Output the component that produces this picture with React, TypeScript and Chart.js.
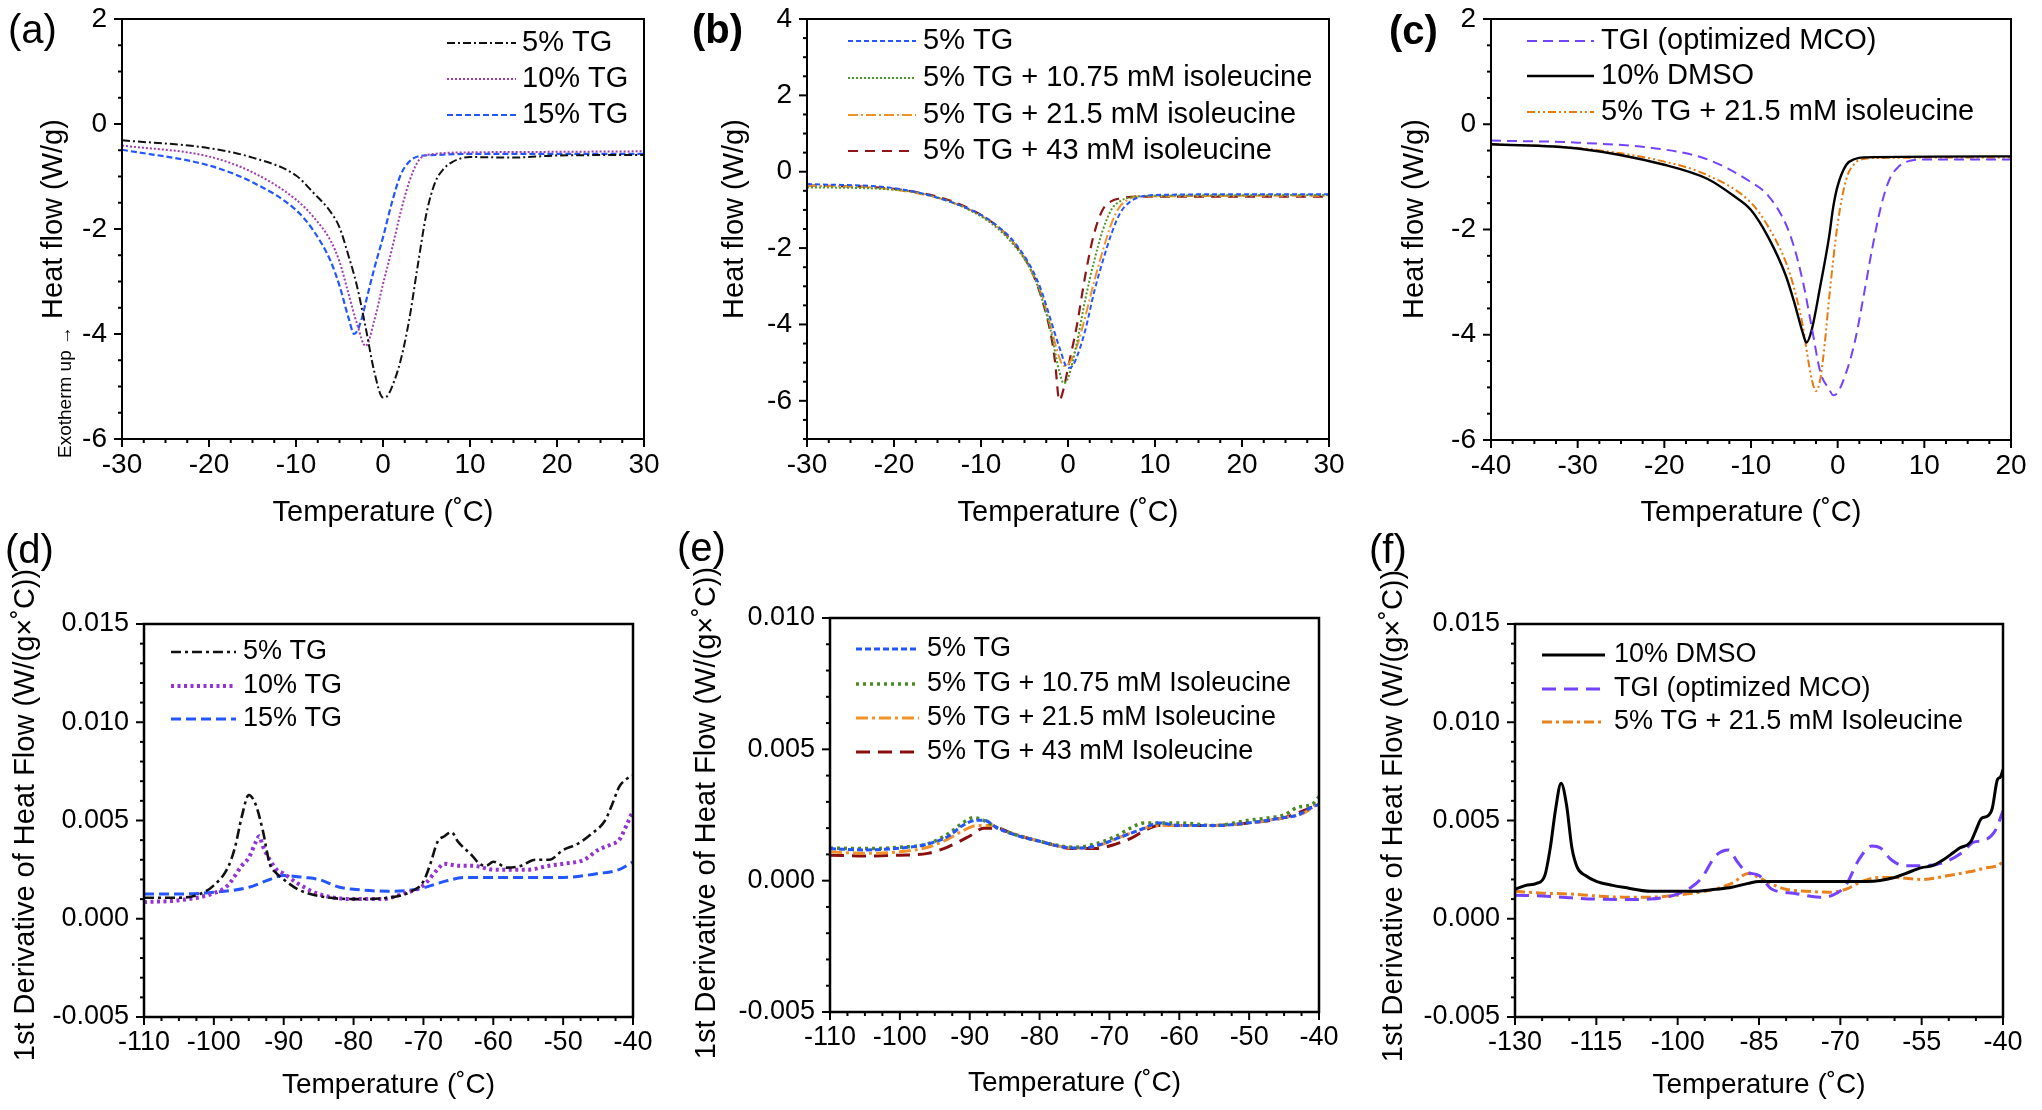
import React, { useEffect, useRef } from "react";
import { Chart, registerables } from "chart.js";
Chart.register(...registerables);

// ---------------- DATA ----------------
// Panel (a): heat flow (W/g) vs temperature (°C)
const a5TG_T = [-30, -20, -15, -10, -8, -6, -5, -4, -3, -2, -1, 0, 0.5, 1, 2, 3, 4, 5, 6, 7, 8, 10, 15, 20, 30];
const a5TG_V = [-0.31, -0.46, -0.64, -0.98, -1.31, -1.68, -1.97, -2.49, -3.08, -3.87, -4.72, -5.21, -5.18, -5.02, -4.52, -3.74, -2.69, -1.7, -1.11, -0.85, -0.72, -0.63, -0.64, -0.6, -0.59];
const a10TG_T = [-30, -20, -15, -10, -8, -6, -5, -4, -3, -2, -1, 0, 1, 2, 3, 4, 5, 10, 20, 30];
const a10TG_V = [-0.41, -0.62, -0.92, -1.44, -1.77, -2.23, -2.62, -3.21, -3.8, -4.23, -3.74, -3.05, -2.4, -1.7, -1.11, -0.72, -0.59, -0.54, -0.53, -0.52];
const a15TG_T = [-30, -20, -15, -10, -8, -6, -5, -4, -3.3, -2.5, -2, -1, 0, 1, 2, 3, 4, 6, 10, 30];
const a15TG_V = [-0.49, -0.79, -1.11, -1.64, -2.03, -2.62, -3.08, -3.67, -4.0, -3.74, -3.41, -2.75, -2.16, -1.51, -0.98, -0.72, -0.62, -0.59, -0.57, -0.57];

// Panel (b)
const b5TG_T = [-30, -20, -15, -10, -8, -6, -4, -3, -2, -1, 0, 0.5, 1, 2, 3, 4, 5, 6, 7, 8, 10, 20, 30];
const b5TG_V = [-0.32, -0.43, -0.68, -1.13, -1.44, -1.89, -2.61, -3.15, -3.87, -4.59, -5.14, -5.09, -4.86, -4.14, -3.15, -2.34, -1.62, -1.08, -0.81, -0.68, -0.61, -0.59, -0.59];
const bIle1075_T = [-30, -20, -10, -6, -4, -3, -2, -1, -0.5, 0, 1, 2, 3, 4, 5, 6, 7, 10, 30];
const bIle1075_V = [-0.41, -0.47, -1.17, -1.98, -2.7, -3.33, -4.14, -5.23, -5.54, -5.41, -4.5, -3.33, -2.34, -1.53, -0.99, -0.77, -0.68, -0.63, -0.61];
const bIle215_T = [-30, -20, -10, -6, -4, -3, -2, -1, -0.5, 0, 1, 2, 3, 4, 5, 6, 7, 8, 30];
const bIle215_V = [-0.36, -0.47, -1.15, -1.94, -2.7, -3.24, -4.05, -4.86, -5.09, -5.05, -4.59, -3.78, -2.88, -2.07, -1.35, -0.9, -0.72, -0.65, -0.63];
const bIle43_T = [-30, -20, -10, -6, -4, -3, -2, -1.5, -1, -0.5, 0, 1, 2, 3, 4, 5, 6, 8, 30];
const bIle43_V = [-0.36, -0.45, -1.13, -1.94, -2.7, -3.33, -4.23, -4.95, -5.99, -5.68, -5.14, -4.05, -2.7, -1.62, -0.99, -0.77, -0.7, -0.65, -0.65];

// Panel (c)
const cTGI_T = [-40, -30, -20, -15, -10, -8, -6, -5, -4, -3, -2, -1, -0.5, 0, 1, 2, 3, 4, 5, 6, 7, 8, 10, 20];
const cTGI_V = [-0.31, -0.35, -0.48, -0.67, -1.1, -1.36, -1.89, -2.35, -3.0, -3.85, -4.71, -5.03, -5.15, -5.1, -4.71, -4.12, -3.26, -2.35, -1.56, -1.04, -0.81, -0.71, -0.67, -0.67];
const cDMSO_T = [-40, -30, -20, -15, -12, -10, -8, -6, -5, -4, -3.6, -3, -2, -1, -0.5, 0, 1, 2, 3, 20];
const cDMSO_V = [-0.38, -0.46, -0.77, -1.04, -1.36, -1.63, -2.15, -2.87, -3.39, -3.98, -4.15, -3.91, -3.07, -2.15, -1.56, -1.17, -0.77, -0.66, -0.63, -0.61];
const cIle215_T = [-40, -30, -20, -15, -10, -8, -6, -5, -4, -3.5, -3, -2.5, -2, -1.5, -1, 0, 1, 2, 3, 5, 20];
const cIle215_V = [-0.38, -0.45, -0.71, -0.97, -1.49, -1.95, -2.61, -3.13, -3.85, -4.38, -4.84, -5.07, -4.84, -4.18, -3.33, -1.89, -1.04, -0.74, -0.66, -0.64, -0.63];

// Panel (d): 1st derivative of heat flow
const d5TG_T = [-110, -105, -102, -100, -98, -97, -96, -95, -94, -93, -92, -91, -90, -88, -85, -80, -75, -72, -70, -69, -68, -67, -66, -65, -63, -62, -61, -60, -58, -56, -54, -52, -50, -48, -46, -44, -43, -42, -41, -40];
const d5TG_V = [0.00107, 0.00107, 0.00126, 0.0017, 0.0026, 0.0036, 0.0052, 0.0063, 0.0058, 0.0045, 0.0028, 0.0023, 0.002, 0.0015, 0.00116, 0.001, 0.00107, 0.00135, 0.0019, 0.0028, 0.0039, 0.0042, 0.0044, 0.0039, 0.0032, 0.0028, 0.0027, 0.0029, 0.0026, 0.0027, 0.003, 0.003, 0.0035, 0.0038, 0.0043, 0.005, 0.0058, 0.0067, 0.0071, 0.0073];
const d10TG_T = [-110, -105, -100, -98, -96, -95, -94, -93.5, -93, -92, -91, -90, -88, -85, -80, -76, -73, -70, -68, -67, -65, -63, -60, -57, -55, -52, -50, -47, -45, -43, -42, -41, -40];
const d10TG_V = [0.00085, 0.00094, 0.0013, 0.0017, 0.0027, 0.0031, 0.0039, 0.0042, 0.0037, 0.003, 0.0025, 0.0023, 0.0018, 0.00126, 0.001, 0.001, 0.00126, 0.0017, 0.0025, 0.0028, 0.0027, 0.0027, 0.0025, 0.0025, 0.0025, 0.0027, 0.0028, 0.003, 0.0035, 0.0038, 0.004, 0.0047, 0.0055];
const d15TG_T = [-110, -105, -100, -95, -92, -90, -87, -85, -82, -80, -75, -72, -70, -67, -64, -60, -57, -50, -45, -42, -40];
const d15TG_V = [0.00126, 0.00126, 0.00135, 0.0016, 0.002, 0.0022, 0.0021, 0.002, 0.0016, 0.0015, 0.0014, 0.00145, 0.00157, 0.0019, 0.0021, 0.0021, 0.0021, 0.0021, 0.0023, 0.0025, 0.0029];

// Panel (e)
const e5TG_T = [-110, -105, -100, -96, -93, -91, -89, -88, -86, -83, -80, -77, -74, -71, -69, -67, -65, -63, -60, -55, -50, -45, -43, -41, -40];
const e5TG_V = [0.00122, 0.00117, 0.00124, 0.0014, 0.0017, 0.0021, 0.0023, 0.0023, 0.002, 0.0017, 0.0015, 0.0013, 0.00124, 0.0014, 0.0016, 0.0018, 0.002, 0.0022, 0.0021, 0.0021, 0.0022, 0.0024, 0.0025, 0.0028, 0.0029];
const eIle1075_T = [-110, -105, -100, -96, -93, -91, -89.5, -88, -86, -80, -75, -72, -69, -67, -65, -62, -60, -55, -50, -47, -45, -43, -41, -40];
const eIle1075_V = [0.00124, 0.00122, 0.00127, 0.0014, 0.0018, 0.0022, 0.0024, 0.0023, 0.002, 0.0015, 0.00127, 0.0014, 0.0017, 0.002, 0.0022, 0.0022, 0.0022, 0.0021, 0.0023, 0.0024, 0.0025, 0.0028, 0.0029, 0.0032];
const eIle215_T = [-110, -105, -100, -96, -93, -91, -89, -87, -85, -80, -75, -72, -69, -66, -63, -60, -55, -50, -45, -42, -40];
const eIle215_V = [0.0011, 0.00104, 0.0011, 0.00127, 0.0016, 0.0019, 0.0021, 0.0021, 0.0019, 0.0015, 0.00124, 0.0013, 0.0016, 0.0019, 0.0021, 0.0021, 0.0021, 0.0022, 0.0024, 0.0026, 0.003];
const eIle43_T = [-110, -105, -100, -96, -93, -90, -88, -86, -84, -80, -75, -72, -69, -67, -65, -63, -60, -55, -50, -45, -40];
const eIle43_V = [0.00097, 0.00094, 0.00097, 0.00104, 0.0013, 0.0017, 0.002, 0.002, 0.0018, 0.0015, 0.00122, 0.00122, 0.0014, 0.0016, 0.0019, 0.0021, 0.0021, 0.0021, 0.0022, 0.0024, 0.0029];

// Panel (f)
const fDMSO_T = [-130, -128, -126, -124.5, -123.5, -122.5, -121.5, -120.5, -119.5, -118.5, -117, -115, -112, -110, -105, -100, -97, -93, -90, -87, -85, -80, -70, -65, -60, -58, -55, -53, -51, -49, -48, -46, -45, -44, -43, -42, -41, -40.5, -40];
const fDMSO_V = [0.0015, 0.0017, 0.0018, 0.0022, 0.0036, 0.0056, 0.0069, 0.0058, 0.0036, 0.0026, 0.0022, 0.0019, 0.0017, 0.0016, 0.0014, 0.0014, 0.0014, 0.0015, 0.0016, 0.0018, 0.0019, 0.0019, 0.0019, 0.0019, 0.0021, 0.0023, 0.0026, 0.0027, 0.003, 0.0034, 0.0036, 0.0039, 0.0045, 0.0051, 0.0052, 0.0056, 0.0071, 0.0072, 0.0076];
const fTGI_T = [-130, -125, -120, -115, -110, -105, -100, -97.5, -95.5, -93, -90.6, -89, -87.4, -85, -82.6, -78.6, -73.8, -71.4, -69, -66.6, -64.2, -62.6, -60.6, -58.2, -54.6, -50.6, -47.4, -45.4, -43.4, -41.4, -40];
const fTGI_V = [0.0012, 0.00116, 0.00107, 0.001, 0.00098, 0.001, 0.00126, 0.0016, 0.0021, 0.0032, 0.0035, 0.0029, 0.0024, 0.0022, 0.0015, 0.0013, 0.0011, 0.0012, 0.0017, 0.003, 0.0037, 0.0036, 0.003, 0.0027, 0.0027, 0.0029, 0.0034, 0.0039, 0.004, 0.0045, 0.0055];
const fIle215_T = [-130, -125, -120, -115, -110, -105, -100, -95, -90, -87, -85, -83, -80, -76, -72, -69, -66, -63, -60, -55, -50, -46, -43, -41, -40];
const fIle215_V = [0.0014, 0.0013, 0.00126, 0.00116, 0.0011, 0.0011, 0.0012, 0.0014, 0.0018, 0.0023, 0.0021, 0.0018, 0.0015, 0.0014, 0.00135, 0.0015, 0.0019, 0.0021, 0.0021, 0.002, 0.0022, 0.0024, 0.0026, 0.0027, 0.0029];

// Tick labels
const xTicksAB = [-30, -20, -10, 0, 10, 20, 30];
const xTicksC = [-40, -30, -20, -10, 0, 10, 20];
const xTicksDE = [-110, -100, -90, -80, -70, -60, -50, -40];
const xTicksF = [-130, -115, -100, -85, -70, -55, -40];
const yTicksAC = [-6, -4, -2, 0, 2];
const yTicksB = [-6, -4, -2, 0, 2, 4];
const yTicksDF = [-0.005, 0, 0.005, 0.01, 0.015];
const yTicksE = [-0.005, 0, 0.005, 0.01];

// ---------------- LAYOUT / RENDERING ----------------
const W = 2042;
const H = 1110;
const FONT = '"Liberation Sans", Arial, Helvetica, sans-serif';

type S = { label: string; t: number[]; v: number[]; color: string; dash: number[]; width: number };
type P = {
  area: [number, number, number, number];
  xMin: number; xMax: number; yMin: number; yMax: number;
  xTicks: number[]; xMinor: number; yTicks: number[]; yMinor: number; yDec: number;
  tickFont: number; frame: number;
  series: S[];
  legend: { x1: number; x2: number; tx: number; ys: number[]; font: number };
  xTitle: { text: string; y: number; font: number };
  yTitle: { text: string; x: number; y: number; font: number };
  extra?: { text: string; x: number; y: number; font: number };
  label: { text: string; x: number; y: number; font: number; bold: boolean };
};

const YT1 = "Heat flow (W/g)";
const YT2 = "1st Derivative of Heat Flow (W/(g×˚C))";
const XT = "Temperature (˚C)";

const BLUE = "#2356ff";
const GREEN = "#4a9828";
const ORANGE = "#f39327";
const DARKRED = "#8e1616";
const VIOLET = "#7443ff";

const panels: P[] = [
  {
    area: [122, 19, 644, 439], xMin: -30, xMax: 30, yMin: -6, yMax: 2,
    xTicks: xTicksAB, xMinor: 2.5, yTicks: yTicksAC, yMinor: 0.5, yDec: 0, tickFont: 28, frame: 2,
    series: [
      { label: "5% TG", t: a5TG_T, v: a5TG_V, color: "#111111", dash: [8, 3, 2, 3], width: 2 },
      { label: "10% TG", t: a10TG_T, v: a10TG_V, color: "#a03bb0", dash: [2, 2], width: 2 },
      { label: "15% TG", t: a15TG_T, v: a15TG_V, color: BLUE, dash: [6, 3], width: 2.2 },
    ],
    legend: { x1: 447, x2: 516, tx: 522, ys: [43, 79, 115], font: 29 },
    xTitle: { text: XT, y: 513, font: 29 },
    yTitle: { text: YT1, x: 54, y: 219, font: 29 },
    extra: { text: "Exotherm up →", x: 66, y: 392, font: 19 },
    label: { text: "(a)", x: 8, y: 32, font: 40, bold: false },
  },
  {
    area: [807, 19, 1329, 439], xMin: -30, xMax: 30, yMin: -7, yMax: 4,
    xTicks: xTicksAB, xMinor: 2.5, yTicks: yTicksB, yMinor: 0.5, yDec: 0, tickFont: 28, frame: 2,
    series: [
      { label: "5% TG", t: b5TG_T, v: b5TG_V, color: BLUE, dash: [5, 3], width: 2 },
      { label: "5% TG + 10.75 mM isoleucine", t: bIle1075_T, v: bIle1075_V, color: GREEN, dash: [2, 2], width: 2 },
      { label: "5% TG + 21.5 mM isoleucine", t: bIle215_T, v: bIle215_V, color: ORANGE, dash: [10, 3, 2, 3], width: 2 },
      { label: "5% TG + 43 mM isoleucine", t: bIle43_T, v: bIle43_V, color: DARKRED, dash: [10, 7], width: 2.2 },
    ],
    legend: { x1: 848, x2: 916, tx: 923, ys: [41, 78, 115, 151], font: 29 },
    xTitle: { text: XT, y: 513, font: 29 },
    yTitle: { text: YT1, x: 735, y: 219, font: 29 },
    label: { text: "(b)", x: 692, y: 32, font: 40, bold: true },
  },
  {
    area: [1491, 19, 2011, 440], xMin: -40, xMax: 20, yMin: -6, yMax: 2,
    xTicks: xTicksC, xMinor: 2.5, yTicks: yTicksAC, yMinor: 0.5, yDec: 0, tickFont: 28, frame: 2,
    series: [
      { label: "TGI (optimized MCO)", t: cTGI_T, v: cTGI_V, color: VIOLET, dash: [10, 6], width: 2 },
      { label: "10% DMSO", t: cDMSO_T, v: cDMSO_V, color: "#000000", dash: [], width: 2.4 },
      { label: "5% TG + 21.5 mM isoleucine", t: cIle215_T, v: cIle215_V, color: "#e8790f", dash: [8, 3, 2, 3, 2, 3], width: 2 },
    ],
    legend: { x1: 1527, x2: 1594, tx: 1601, ys: [41, 76, 112], font: 29 },
    xTitle: { text: XT, y: 513, font: 29 },
    yTitle: { text: YT1, x: 1415, y: 219, font: 29 },
    label: { text: "(c)", x: 1389, y: 33, font: 40, bold: true },
  },
  {
    area: [144, 624, 633, 1017], xMin: -110, xMax: -40, yMin: -0.005, yMax: 0.015,
    xTicks: xTicksDE, xMinor: 2.5, yTicks: yTicksDF, yMinor: 0.001, yDec: 3, tickFont: 27, frame: 2.5,
    series: [
      { label: "5% TG", t: d5TG_T, v: d5TG_V, color: "#111111", dash: [10, 4, 3, 4], width: 2.6 },
      { label: "10% TG", t: d10TG_T, v: d10TG_V, color: "#9232d8", dash: [3, 3.5], width: 4 },
      { label: "15% TG", t: d15TG_T, v: d15TG_V, color: BLUE, dash: [10, 5], width: 3 },
    ],
    legend: { x1: 171, x2: 236, tx: 243, ys: [652, 686, 719], font: 27 },
    xTitle: { text: XT, y: 1085, font: 28 },
    yTitle: { text: YT2, x: 26, y: 815, font: 29 },
    label: { text: "(d)", x: 5, y: 552, font: 40, bold: false },
  },
  {
    area: [830, 618, 1319, 1012], xMin: -110, xMax: -40, yMin: -0.005, yMax: 0.01,
    xTicks: xTicksDE, xMinor: 2.5, yTicks: yTicksE, yMinor: 0.001, yDec: 3, tickFont: 27, frame: 2.5,
    series: [
      { label: "5% TG", t: e5TG_T, v: e5TG_V, color: BLUE, dash: [6, 3], width: 3 },
      { label: "5% TG + 10.75 mM Isoleucine", t: eIle1075_T, v: eIle1075_V, color: "#4b8a20", dash: [3, 4], width: 3.5 },
      { label: "5% TG + 21.5 mM Isoleucine", t: eIle215_T, v: eIle215_V, color: ORANGE, dash: [12, 4, 3, 4], width: 3 },
      { label: "5% TG + 43 mM Isoleucine", t: eIle43_T, v: eIle43_V, color: "#8b0f0f", dash: [14, 8], width: 3 },
    ],
    legend: { x1: 856, x2: 919, tx: 927, ys: [649, 684, 718, 752], font: 27 },
    xTitle: { text: XT, y: 1083, font: 28 },
    yTitle: { text: YT2, x: 707, y: 813, font: 29 },
    label: { text: "(e)", x: 677, y: 550, font: 40, bold: false },
  },
  {
    area: [1515, 624, 2003, 1017], xMin: -130, xMax: -40, yMin: -0.005, yMax: 0.015,
    xTicks: xTicksF, xMinor: 5, yTicks: yTicksDF, yMinor: 0.001, yDec: 3, tickFont: 27, frame: 2.5,
    series: [
      { label: "10% DMSO", t: fDMSO_T, v: fDMSO_V, color: "#000000", dash: [], width: 3 },
      { label: "TGI (optimized MCO)", t: fTGI_T, v: fTGI_V, color: VIOLET, dash: [14, 8], width: 3 },
      { label: "5% TG + 21.5 mM Isoleucine", t: fIle215_T, v: fIle215_V, color: "#e8821e", dash: [10, 4, 3, 4], width: 3 },
    ],
    legend: { x1: 1542, x2: 1605, tx: 1614, ys: [655, 689, 722], font: 27 },
    xTitle: { text: XT, y: 1085, font: 28 },
    yTitle: { text: YT2, x: 1394, y: 816, font: 29 },
    label: { text: "(f)", x: 1369, y: 552, font: 40, bold: false },
  },
];

function decoPlugin(cfg: P) {
  return {
    id: "deco",
    afterDraw(chart: any) {
      const ctx: CanvasRenderingContext2D = chart.ctx;
      const xs = chart.scales.x;
      const ys = chart.scales.y;
      const { left, top, right, bottom } = chart.chartArea;
      ctx.save();
      ctx.strokeStyle = "#000";
      ctx.fillStyle = "#000";
      ctx.setLineDash([]);
      // frame
      ctx.lineWidth = cfg.frame;
      ctx.strokeRect(left, top, right - left, bottom - top);
      // ticks
      ctx.lineWidth = 2;
      const isMajor = (v: number, arr: number[], step: number) => arr.some((m) => Math.abs(m - v) < step * 1e-3);
      const nx = Math.round((cfg.xMax - cfg.xMin) / cfg.xMinor);
      for (let i = 0; i <= nx; i++) {
        const v = cfg.xMin + i * cfg.xMinor;
        const px = xs.getPixelForValue(v);
        const len = isMajor(v, cfg.xTicks, cfg.xMinor) ? 8 : 4;
        ctx.beginPath();
        ctx.moveTo(px, bottom);
        ctx.lineTo(px, bottom + len);
        ctx.stroke();
      }
      const ny = Math.round((cfg.yMax - cfg.yMin) / cfg.yMinor);
      for (let i = 0; i <= ny; i++) {
        const v = cfg.yMin + i * cfg.yMinor;
        const py = ys.getPixelForValue(v);
        const len = isMajor(v, cfg.yTicks, cfg.yMinor) ? 8 : 4;
        ctx.beginPath();
        ctx.moveTo(left, py);
        ctx.lineTo(left - len, py);
        ctx.stroke();
      }
      // tick labels
      ctx.font = `${cfg.tickFont}px ${FONT}`;
      ctx.textAlign = "center";
      ctx.textBaseline = "middle";
      for (const v of cfg.xTicks) {
        ctx.fillText(String(v), xs.getPixelForValue(v), bottom + 26);
      }
      ctx.textAlign = "right";
      for (const v of cfg.yTicks) {
        const s = cfg.yDec > 0 ? v.toFixed(cfg.yDec) : String(v);
        ctx.fillText(s, left - 15, ys.getPixelForValue(v));
      }
      // axis titles
      ctx.textAlign = "center";
      ctx.font = `${cfg.xTitle.font}px ${FONT}`;
      ctx.fillText(cfg.xTitle.text, (left + right) / 2, cfg.xTitle.y);
      const rot = (t: { text: string; x: number; y: number; font: number }) => {
        ctx.save();
        ctx.translate(t.x, t.y);
        ctx.rotate(-Math.PI / 2);
        ctx.font = `${t.font}px ${FONT}`;
        ctx.textAlign = "center";
        ctx.textBaseline = "middle";
        ctx.fillText(t.text, 0, 0);
        ctx.restore();
      };
      rot(cfg.yTitle);
      if (cfg.extra) rot(cfg.extra);
      // legend
      const lg = cfg.legend;
      cfg.series.forEach((s, i) => {
        const y = lg.ys[i];
        ctx.save();
        ctx.strokeStyle = s.color;
        ctx.lineWidth = s.width;
        ctx.setLineDash(s.dash);
        ctx.beginPath();
        ctx.moveTo(lg.x1, y);
        ctx.lineTo(lg.x2, y);
        ctx.stroke();
        ctx.restore();
        ctx.font = `${lg.font}px ${FONT}`;
        ctx.textAlign = "left";
        ctx.textBaseline = "middle";
        ctx.fillText(s.label, lg.tx, y);
      });
      // panel label
      ctx.font = `${cfg.label.bold ? "bold " : ""}${cfg.label.font}px ${FONT}`;
      ctx.textAlign = "left";
      ctx.textBaseline = "middle";
      ctx.fillText(cfg.label.text, cfg.label.x, cfg.label.y);
      ctx.restore();
    },
  };
}

function Panel({ cfg }: { cfg: P }) {
  const ref = useRef<HTMLCanvasElement>(null);
  useEffect(() => {
    const [L, T, R, B] = cfg.area;
    const chart = new Chart(ref.current as HTMLCanvasElement, {
      type: "line",
      data: {
        datasets: cfg.series.map((s) => ({
          label: s.label,
          data: s.t.map((x, i) => ({ x, y: s.v[i] })),
          borderColor: s.color,
          backgroundColor: s.color,
          borderDash: s.dash,
          borderWidth: s.width,
          pointRadius: 0,
          fill: false,
          cubicInterpolationMode: "monotone",
          borderJoinStyle: "round",
        })),
      } as any,
      options: {
        responsive: false,
        animation: false,
        devicePixelRatio: 1,
        events: [],
        layout: { padding: { left: L, top: T, right: W - R, bottom: H - B } },
        plugins: { legend: { display: false }, tooltip: { enabled: false }, title: { display: false } },
        scales: {
          x: { type: "linear", min: cfg.xMin, max: cfg.xMax, display: false },
          y: { type: "linear", min: cfg.yMin, max: cfg.yMax, display: false },
        },
      } as any,
      plugins: [decoPlugin(cfg)],
    });
    return () => chart.destroy();
  }, [cfg]);
  return (
    <canvas
      ref={ref}
      width={W}
      height={H}
      style={{ position: "absolute", left: 0, top: 0, width: W, height: H }}
    />
  );
}

export default function App() {
  return (
    <div style={{ position: "absolute", left: 0, top: 0, width: W, height: H, background: "#fff", overflow: "hidden" }}>
      {panels.map((p, i) => (
        <Panel key={i} cfg={p} />
      ))}
    </div>
  );
}
